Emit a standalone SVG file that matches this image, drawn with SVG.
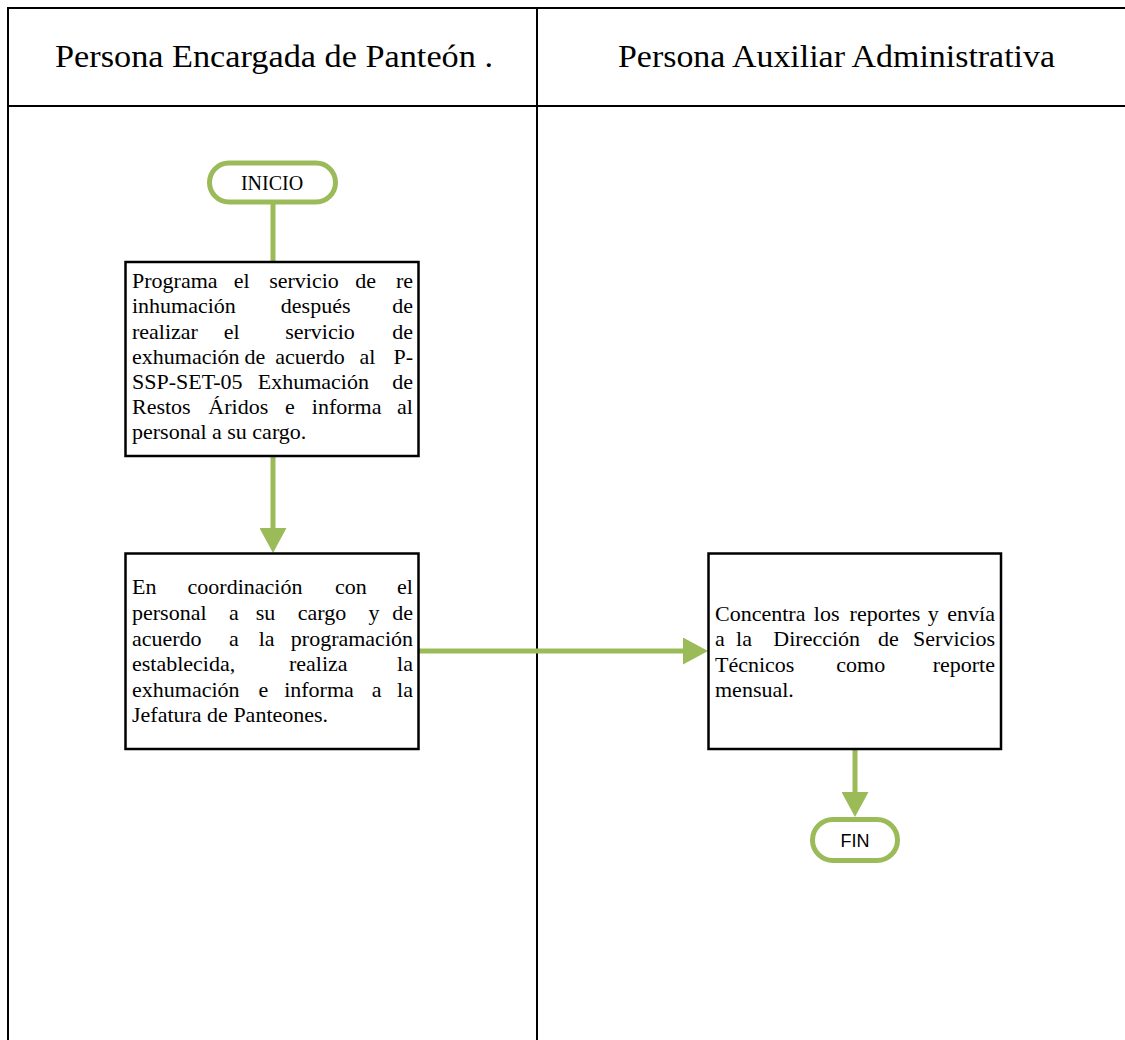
<svg xmlns="http://www.w3.org/2000/svg" width="1125" height="1040" viewBox="0 0 1125 1040">
  <style>
    .grid { stroke: #000; stroke-width: 2; fill: none; }
    .hdr { font-family: "Liberation Serif", "DejaVu Serif", serif; font-size: 31px; fill: #000; }
    .box { fill: #fff; stroke: #000; stroke-width: 2.5; }
    .term { fill: #fff; stroke: #9BBB59; stroke-width: 5; }
    .t { font-family: "Liberation Serif", "DejaVu Serif", serif; font-size: 22px; fill: #000; }
    .m { text-anchor: middle; }
    .e { text-anchor: end; }
    .sans { font-family: "Liberation Sans", "DejaVu Sans", sans-serif; font-size: 18px; fill: #000; }
    .conn { stroke: #9BBB59; stroke-width: 5; fill: none; }
  </style>
  <defs>
    <marker id="arr" markerUnits="userSpaceOnUse" markerWidth="26" markerHeight="27" refX="0" refY="13.5" orient="auto">
      <path d="M0,0 L25,13.5 L0,27 z" fill="#9BBB59"/>
    </marker>
  </defs>
  <rect x="0" y="0" width="1125" height="1040" fill="#fff"/>

  <g id="lanes">
    <line class="grid" x1="8" y1="8" x2="1125" y2="8"/>
    <line class="grid" x1="8" y1="106" x2="1125" y2="106"/>
    <line class="grid" x1="8" y1="7" x2="8" y2="1040"/>
    <line class="grid" x1="537" y1="7" x2="537" y2="1040"/>
    <text class="hdr" x="55" y="67" textLength="438" lengthAdjust="spacingAndGlyphs">Persona Encargada de Panteón .</text>
    <text class="hdr" x="618" y="67" textLength="437" lengthAdjust="spacingAndGlyphs">Persona Auxiliar Administrativa</text>
  </g>

  <g id="connectors">
    <line class="conn" x1="273" y1="203" x2="273" y2="262"/>
    <line class="conn" x1="273" y1="456" x2="273" y2="528" marker-end="url(#arr)"/>
    <line class="conn" x1="419" y1="651" x2="683" y2="651" marker-end="url(#arr)"/>
    <line class="conn" x1="855" y1="749" x2="855" y2="792" marker-end="url(#arr)"/>
  </g>

  <g id="inicio">
    <rect class="term" x="209.5" y="163" width="126" height="39" rx="19.5"/>
    <text class="t m" x="272" y="190" style="font-size:20px">INICIO</text>
  </g>

  <g id="step1">
    <rect class="box" x="125.5" y="262" width="293" height="194"/>
    <text class="t" x="132" y="288">Programa</text>
    <text class="t m" x="241.7" y="288">el</text>
    <text class="t m" x="304" y="288">servicio</text>
    <text class="t m" x="365.7" y="288">de</text>
    <text class="t e" x="413" y="288">re</text>

    <text class="t" x="132" y="313">inhumación</text>
    <text class="t m" x="315.7" y="313">después</text>
    <text class="t e" x="413" y="313">de</text>

    <text class="t" x="132" y="338.5">realizar</text>
    <text class="t m" x="231.7" y="338.5">el</text>
    <text class="t m" x="320" y="338.5">servicio</text>
    <text class="t e" x="413" y="338.5">de</text>

    <text class="t" x="132" y="363.5">exhumación</text>
    <text class="t m" x="255" y="363.5">de</text>
    <text class="t m" x="310" y="363.5">acuerdo</text>
    <text class="t m" x="367.5" y="363.5">al</text>
    <text class="t e" x="413" y="363.5">P-</text>

    <text class="t" x="132" y="389">SSP-SET-05</text>
    <text class="t m" x="313.3" y="389">Exhumación</text>
    <text class="t e" x="413" y="389">de</text>

    <text class="t" x="132" y="414">Restos</text>
    <text class="t m" x="238.3" y="414">Áridos</text>
    <text class="t m" x="290" y="414">e</text>
    <text class="t m" x="346.7" y="414">informa</text>
    <text class="t e" x="413" y="414">al</text>

    <text class="t" x="132" y="439">personal a su cargo.</text>
  </g>

  <g id="step2">
    <rect class="box" x="125.5" y="553.5" width="293" height="195.5"/>
    <text class="t" x="132" y="594">En</text>
    <text class="t m" x="245" y="594">coordinación</text>
    <text class="t m" x="350.8" y="594">con</text>
    <text class="t e" x="413" y="594">el</text>

    <text class="t" x="132" y="620">personal</text>
    <text class="t m" x="234" y="620">a</text>
    <text class="t m" x="265.5" y="620">su</text>
    <text class="t m" x="322" y="620">cargo</text>
    <text class="t m" x="374" y="620">y</text>
    <text class="t e" x="413" y="620">de</text>

    <text class="t" x="132" y="645.5">acuerdo</text>
    <text class="t m" x="234" y="645.5">a</text>
    <text class="t m" x="266.7" y="645.5">la</text>
    <text class="t e" x="413" y="645.5">programación</text>

    <text class="t" x="132" y="671">establecida,</text>
    <text class="t m" x="318.3" y="671">realiza</text>
    <text class="t e" x="413" y="671">la</text>

    <text class="t" x="132" y="696.5">exhumación</text>
    <text class="t m" x="263.3" y="696.5">e</text>
    <text class="t m" x="319" y="696.5">informa</text>
    <text class="t m" x="376.7" y="696.5">a</text>
    <text class="t e" x="413" y="696.5">la</text>

    <text class="t" x="132" y="722">Jefatura de Panteones.</text>
  </g>

  <g id="step3">
    <rect class="box" x="708.5" y="553.5" width="292.5" height="195.5"/>
    <text class="t" x="715" y="620.5">Concentra</text>
    <text class="t m" x="826.7" y="620.5">los</text>
    <text class="t m" x="885" y="620.5">reportes</text>
    <text class="t m" x="933.3" y="620.5">y</text>
    <text class="t e" x="995" y="620.5">envía</text>

    <text class="t" x="715" y="646">a</text>
    <text class="t m" x="744" y="646">la</text>
    <text class="t m" x="816.7" y="646">Dirección</text>
    <text class="t m" x="888.3" y="646">de</text>
    <text class="t e" x="995" y="646">Servicios</text>

    <text class="t" x="715" y="671.5">Técnicos</text>
    <text class="t m" x="860.8" y="671.5">como</text>
    <text class="t e" x="995" y="671.5">reporte</text>

    <text class="t" x="715" y="697">mensual.</text>
  </g>

  <g id="fin">
    <rect class="term" x="812.5" y="819.5" width="85" height="41" rx="20.5"/>
    <text class="sans m" x="855" y="846.5">FIN</text>
  </g>
</svg>
